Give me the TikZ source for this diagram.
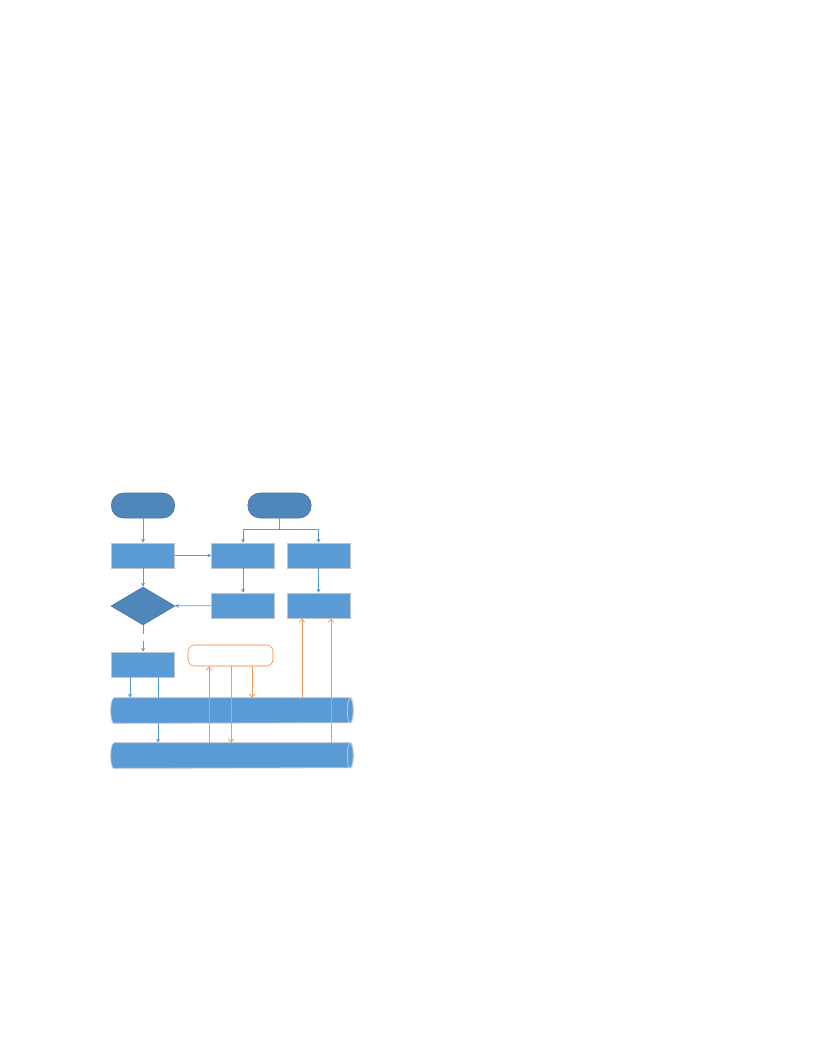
\documentclass[tikz,border=0pt]{standalone}
\usepackage{tikz}
\usetikzlibrary{shapes,arrows.meta,positioning,calc}
\definecolor{flowblue}{HTML}{5B9BD5}
\definecolor{termblue}{HTML}{4F87BB}
\definecolor{termedge}{HTML}{41719C}
\definecolor{boxedge}{HTML}{BCC6D0}
\definecolor{dataorange}{HTML}{ED7D31}
\definecolor{linkorange}{HTML}{F29A5E}
\tikzset{
  terminal/.style={draw=termedge, fill=termblue, rounded corners=9pt, minimum width=47.5pt, minimum height=18.75pt, inner sep=0pt},
  process/.style={draw=boxedge, fill=flowblue, minimum width=47pt, minimum height=18.75pt, inner sep=0pt},
  decision/.style={diamond, draw=termedge, fill=termblue, minimum width=48pt, minimum height=28.5pt, inner sep=0pt},
  notebox/.style={draw=dataorange, fill=white, rounded corners=5pt, minimum width=63.75pt, minimum height=15.75pt, inner sep=0pt},
  storebody/.style={minimum width=177pt, minimum height=18.75pt, inner sep=0pt},
  storeline/.style={draw=boxedge, fill=flowblue, line width=0.6pt},
  flow/.style={flowblue, line width=0.6pt, -{Stealth[length=3pt,width=3pt]}},
  link/.style={linkorange, line width=0.6pt, -{Straight Barb[length=2.5pt,width=4pt]}}
}

\begin{document}
\begin{tikzpicture}[x=0.75pt, y=-0.75pt]
    \useasboundingbox (0,0) rectangle (816,1056);

    % Flow nodes
    \node[terminal] (term1) at (143,505.5) {};
    \node[terminal] (term2) at (279.5,505.5) {};
    \node[process] (boxA) at (143,555.5) {};
    \node[process] (boxB) at (243,555.5) {};
    \node[process] (boxC) at (318.5,555.5) {};
    \node[decision] (dec) at (143,606) {};
    \node[process] (boxD) at (243,605.5) {};
    \node[process] (boxE) at (318.5,605.5) {};
    \node[process] (boxF) at (143,664.5) {};
    \node[notebox] (note) at (230.5,655.5) {};

    % Data stores
    \foreach \n/\y in {cylA/710.5, cylB/755.5} {
        \node[storebody] (\n) at (232,\y) {};
        \path[storeline] (\n.north west) -- (\n.north east)
            arc[start angle=-90, end angle=90, x radius=3, y radius=12.5]
            -- (\n.south west)
            arc[start angle=90, end angle=270, x radius=3, y radius=12.5] -- cycle;
        \draw[boxedge, line width=0.6pt] (\n.east) ellipse[x radius=3, y radius=12.5];
    }

    % Control flow
    \draw[flow] (term1) -- (boxA);
    \draw[flow] (boxA) -- (boxB);
    \draw[flow] (boxA) -- (dec);
    \draw[flow] (boxB) -- (boxD);
    \draw[flow] (boxC) -- (boxE);
    \draw[flow] (boxD) -- (dec);
    \draw[flowblue, line width=0.6pt] (term2.south) -- ++(0,11) coordinate (split);
    \draw[flow] (split) -| (boxB);
    \draw[flow] (split) -| (boxC);
    \draw[flowblue, line width=0.6pt] (dec.south) -- ++(0,9);
    \coordinate (gap) at (143,641);
    \draw[flow] (gap) -- (boxF);

    % Writes to the stores
    \coordinate (fa) at ($(boxF.south)+(-13,0)$);
    \coordinate (fb) at ($(boxF.south)+(15,0)$);
    \draw[flow] (fa) -- (fa |- cylA.north);
    \draw[flow] (fb) -- (fb |- cylB.north);

    % Data links
    \coordinate (na) at ($(note.south)+(-21.5,0)$);
    \coordinate (nb) at ($(note.south)+(0.5,0)$);
    \coordinate (nc) at ($(note.south)+(21.5,0)$);
    \draw[link] (na |- cylB.north) -- (na);
    \draw[link] (nb) -- (nb |- cylB.north);
    \draw[link] (nc) -- (nc |- cylA.north);
    \coordinate (ea) at ($(boxE.south)+(-16.5,0)$);
    \coordinate (eb) at ($(boxE.south)+(12.5,0)$);
    \draw[link] (ea |- cylA.north) -- (ea);
    \draw[link] (eb |- cylB.north) -- (eb);
\end{tikzpicture}
\end{document}
